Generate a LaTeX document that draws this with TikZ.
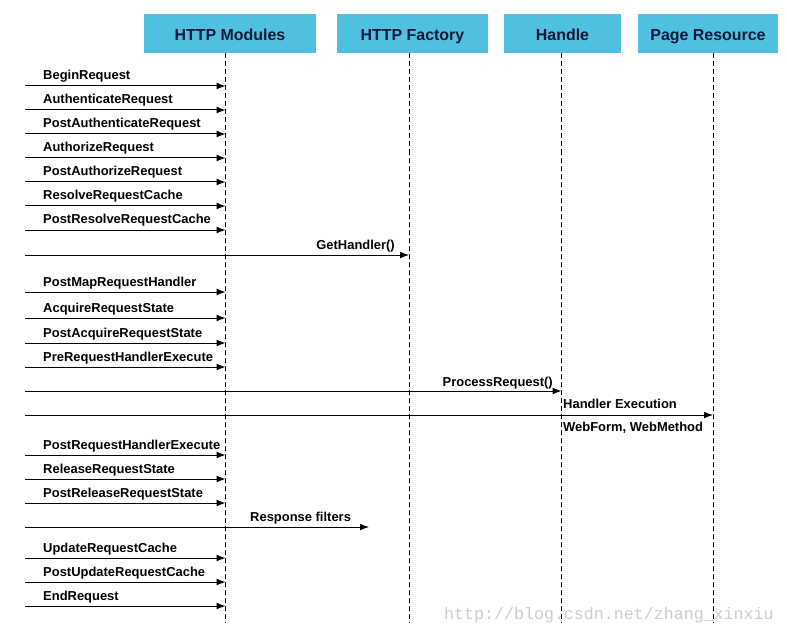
\documentclass[tikz,border=0pt]{standalone}
\usepackage{fontspec}
\setmainfont{Liberation Sans}
\newfontfamily\markfont{Liberation Mono}
\usetikzlibrary{arrows.meta}
\definecolor{boxcol}{RGB}{80,192,224}
\definecolor{headcol}{RGB}{12,24,56}
\definecolor{markcol}{RGB}{205,205,205}
\tikzset{
  head/.style={fill=boxcol, text=headcol, inner sep=0pt, minimum height=39bp,
    text height=14bp, text depth=0pt, font=\fontsize{16}{19}\selectfont\bfseries},
  lifeline/.style={dash pattern=on 5bp off 3bp, line width=1bp},
  msg/.style={-{Latex[length=9bp,width=7bp]}, line width=1bp},
  lbl/.style={font=\fontsize{13}{15}\selectfont\bfseries, inner sep=0pt, anchor=base west},
}
\begin{document}
\begin{tikzpicture}[x=1bp,y=-1bp]
  \useasboundingbox (0,0) rectangle (787,636);
%%
  % Node: HTTP Modules
  \node[head, minimum width=172bp] (modules) at (230,33.5) {HTTP Modules};
  % Node: HTTP Factory
  \node[head, minimum width=151bp] (factory) at (412.5,33.5) {HTTP Factory};
  % Node: Handle
  \node[head, minimum width=117bp] (handle) at (562.5,33.5) {Handle};
  % Node: Page Resource
  \node[head, minimum width=140bp] (page) at (708,33.5) {Page Resource};
  % watermark
  \node[font=\markfont\fontsize{16.7}{18}\selectfont, text=markcol, inner sep=0pt, anchor=base west]
    (watermark) at (444,619) {http://blog.csdn.net/zhang\_xinxiu};
  % Lifelines
  \coordinate (src) at (25,0);
  \coordinate (modtop) at (225.5,53.5);
  \coordinate (factop) at (409,53.5);
  \coordinate (hantop) at (561.5,53.5);
  \coordinate (pagtop) at (713,53.5);
  \coordinate (filterend) at (369,527);
  \draw[lifeline] (modtop) -- (modtop |- 0,622);
  \draw[lifeline] (factop) -- (factop |- 0,622);
  \draw[lifeline] (hantop) -- (hantop |- 0,622);
  \draw[lifeline] (pagtop) -- (pagtop |- 0,622);
  % Edge: BeginRequest
  \draw[msg] (src |- 0,86) -- (modtop |- 0,86);
  \node[lbl] (beginrequest) at (43,80) {BeginRequest};
  % Edge: AuthenticateRequest
  \draw[msg] (src |- 0,110) -- (modtop |- 0,110);
  \node[lbl] (authrequest) at (43,104) {AuthenticateRequest};
  % Edge: PostAuthenticateRequest
  \draw[msg] (src |- 0,134) -- (modtop |- 0,134);
  \node[lbl] (postauthrequest) at (43,128) {PostAuthenticateRequest};
  % Edge: AuthorizeRequest
  \draw[msg] (src |- 0,158) -- (modtop |- 0,158);
  \node[lbl] (authorizerequest) at (43,152) {AuthorizeRequest};
  % Edge: PostAuthorizeRequest
  \draw[msg] (src |- 0,182) -- (modtop |- 0,182);
  \node[lbl] (postauthorizerequest) at (43,176) {PostAuthorizeRequest};
  % Edge: ResolveRequestCache
  \draw[msg] (src |- 0,206) -- (modtop |- 0,206);
  \node[lbl] (resolvecache) at (43,200) {ResolveRequestCache};
  % Edge: PostResolveRequestCache
  \draw[msg] (src |- 0,230) -- (modtop |- 0,230);
  \node[lbl] (postresolvecache) at (43,224) {PostResolveRequestCache};
  % Edge: GetHandler()
  \draw[msg] (src |- 0,255) -- (factop |- 0,255);
  \node[lbl, anchor=base east] (gethandler) at (395,249) {GetHandler()};
  % Edge: PostMapRequestHandler
  \draw[msg] (src |- 0,292) -- (modtop |- 0,292);
  \node[lbl] (postmaphandler) at (43,286.5) {PostMapRequestHandler};
  % Edge: AcquireRequestState
  \draw[msg] (src |- 0,318) -- (modtop |- 0,318);
  \node[lbl] (acquirestate) at (43,312) {AcquireRequestState};
  % Edge: PostAcquireRequestState
  \draw[msg] (src |- 0,343) -- (modtop |- 0,343);
  \node[lbl] (postacquirestate) at (43,337) {PostAcquireRequestState};
  % Edge: PreRequestHandlerExecute
  \draw[msg] (src |- 0,367) -- (modtop |- 0,367);
  \node[lbl] (prehandlerexec) at (43,361) {PreRequestHandlerExecute};
  % Edge: ProcessRequest()
  \draw[msg] (src |- 0,391) -- (hantop |- 0,391);
  \node[lbl, anchor=base east] (processrequest) at (553,386) {ProcessRequest()};
  % Edge: Handler Execution
  \draw[msg] (src |- 0,415) -- (pagtop |- 0,415);
  \node[lbl] (handlerexec) at (563,408) {Handler Execution};
  \node[lbl] (webform) at (563,431) {WebForm, WebMethod};
  % Edge: PostRequestHandlerExecute
  \draw[msg] (src |- 0,455) -- (modtop |- 0,455);
  \node[lbl] (posthandlerexec) at (43,449) {PostRequestHandlerExecute};
  % Edge: ReleaseRequestState
  \draw[msg] (src |- 0,479) -- (modtop |- 0,479);
  \node[lbl] (releasestate) at (43,473) {ReleaseRequestState};
  % Edge: PostReleaseRequestState
  \draw[msg] (src |- 0,503) -- (modtop |- 0,503);
  \node[lbl] (postreleasestate) at (43,497) {PostReleaseRequestState};
  % Edge: Response filters
  \draw[msg] (src |- filterend) -- (filterend);
  \node[lbl] (respfilters) at (250,521.5) {Response filters};
  % Edge: UpdateRequestCache
  \draw[msg] (src |- 0,558) -- (modtop |- 0,558);
  \node[lbl] (updatecache) at (43,552) {UpdateRequestCache};
  % Edge: PostUpdateRequestCache
  \draw[msg] (src |- 0,582) -- (modtop |- 0,582);
  \node[lbl] (postupdatecache) at (43,576) {PostUpdateRequestCache};
  % Edge: EndRequest
  \draw[msg] (src |- 0,606) -- (modtop |- 0,606);
  \node[lbl] (endrequest) at (43,600) {EndRequest};
%
\end{tikzpicture}
\end{document}
